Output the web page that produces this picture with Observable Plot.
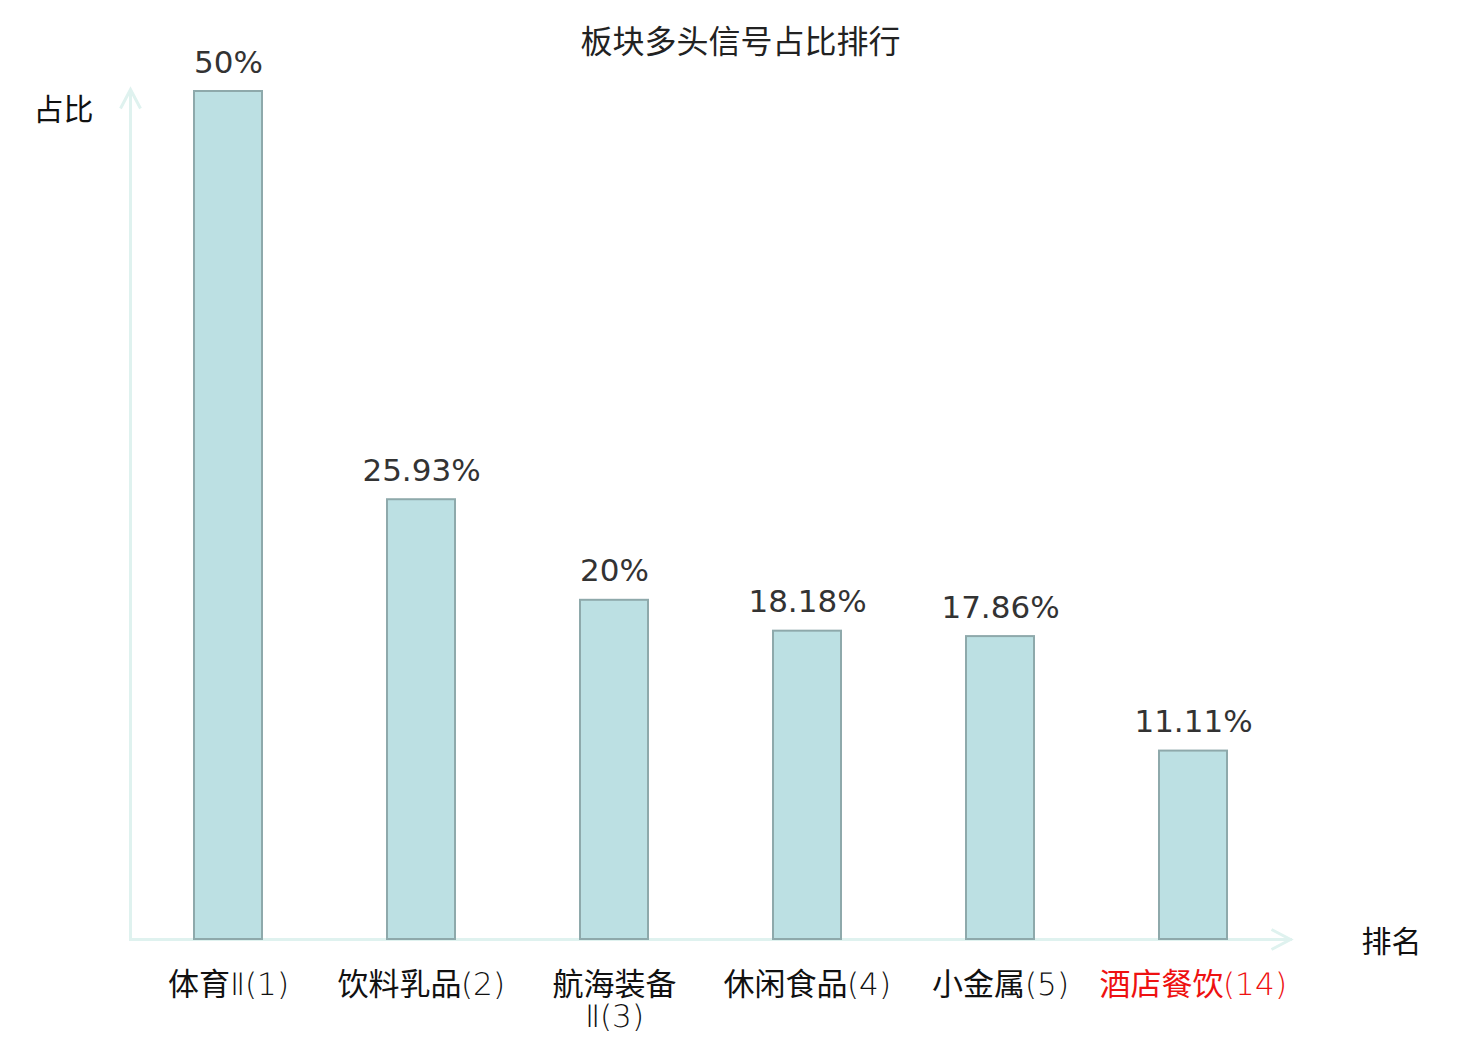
<!DOCTYPE html>
<html>
<head>
<meta charset="utf-8">
<script src="https://cdn.jsdelivr.net/npm/d3@7"></script>
<script src="https://cdn.jsdelivr.net/npm/@observablehq/plot@0.6"></script>
<style>
  @font-face {
    font-family: "TickLatin";
    src: local("DejaVu Sans ExtraLight"), local("DejaVuSans-ExtraLight");
    unicode-range: U+0000-00FF, U+2160-2188;
  }
  html, body { margin: 0; padding: 0; background: #fff; }
  #chart svg { display: block; }
</style>
</head>
<body>
<div id="chart"></div>
<script>
const title = "板块多头信号占比排行";
const yName = "占比";
const xName = "排名";
const categories = ["体育Ⅱ(1)", "饮料乳品(2)", "航海装备Ⅱ(3)", "休闲食品(4)", "小金属(5)", "酒店餐饮(14)"];
const tickLabels = ["体育Ⅱ(1)", "饮料乳品(2)", "航海装备\nⅡ(3)", "休闲食品(4)", "小金属(5)", "酒店餐饮(14)"];
const values = [50, 25.93, 20, 18.18, 17.86, 11.11];
const highlight = [false, false, false, false, false, true];

const data = categories.map((c, i) => ({
  name: c, label: tickLabels[i], value: values[i], hi: highlight[i]
}));

const axisColor = "#dff2ef";
const font = "'DejaVu Sans', 'Noto Sans CJK SC', sans-serif";
const tickFont = "TickLatin, 'Noto Sans CJK SC', sans-serif";

const chevronUp = { draw(ctx) { ctx.moveTo(-10, 19); ctx.lineTo(0, 0); ctx.lineTo(10, 19); } };
const chevronRight = { draw(ctx) { ctx.moveTo(-19, -10); ctx.lineTo(0, 0); ctx.lineTo(-19, 10); } };

function draw() {
  const chart = Plot.plot({
    width: 1480,
    height: 1040,
    marginLeft: 130,
    marginRight: 190,
    marginTop: 91,
    marginBottom: 101,
    style: { fontFamily: font, background: "#fff" },
    x: { domain: categories, paddingInner: 0.65, paddingOuter: 0.325, axis: null },
    y: { domain: [0, 50], axis: null },
    marks: [
      Plot.frame({ anchor: "left", stroke: axisColor, strokeWidth: 3, strokeOpacity: 1 }),
      Plot.frame({ anchor: "bottom", stroke: axisColor, strokeWidth: 3, strokeOpacity: 1 }),
      Plot.dot([0], { frameAnchor: "top-left", dy: -2, symbol: chevronUp, r: 10, stroke: axisColor, strokeWidth: 3, fill: "none" }),
      Plot.dot([0], { frameAnchor: "bottom-right", symbol: chevronRight, r: 10, stroke: axisColor, strokeWidth: 3, fill: "none" }),
      Plot.barY(data, { x: "name", y: "value", fill: "#bce0e3", stroke: "#8ea9ab", strokeWidth: 2 }),
      Plot.text(data, { x: "name", y: "value", text: d => `${d.value}%`, lineAnchor: "bottom", dy: -19, fontSize: 31, fill: "#333", fontFamily: "'DejaVu Sans', sans-serif" }),
      Plot.text(data.filter(d => !d.hi), { x: "name", frameAnchor: "bottom", text: "label", textAnchor: "middle", lineAnchor: "top", dy: 32, lineHeight: 1.05, fontSize: 31, fontFamily: tickFont, fill: "#111" }),
      Plot.text(data.filter(d => d.hi), { x: "name", frameAnchor: "bottom", text: "label", textAnchor: "middle", lineAnchor: "top", dy: 32, lineHeight: 1.05, fontSize: 31, fontFamily: tickFont, fill: "#ee1111" }),
      Plot.text([title], { frameAnchor: "top", text: d => d, textAnchor: "middle", lineAnchor: "middle", dx: 30, dy: -49, fontSize: 32, fill: "#222" }),
      Plot.text([yName], { frameAnchor: "top-left", text: d => d, textAnchor: "middle", lineAnchor: "middle", dx: -67, dy: 19, fontSize: 30, fill: "#111" }),
      Plot.text([xName], { frameAnchor: "bottom-right", text: d => d, textAnchor: "middle", lineAnchor: "middle", dx: 101, dy: 3, fontSize: 30, fill: "#111" })
    ]
  });
  document.getElementById("chart").appendChild(chart);
}
draw();
</script>
</body>
</html>
